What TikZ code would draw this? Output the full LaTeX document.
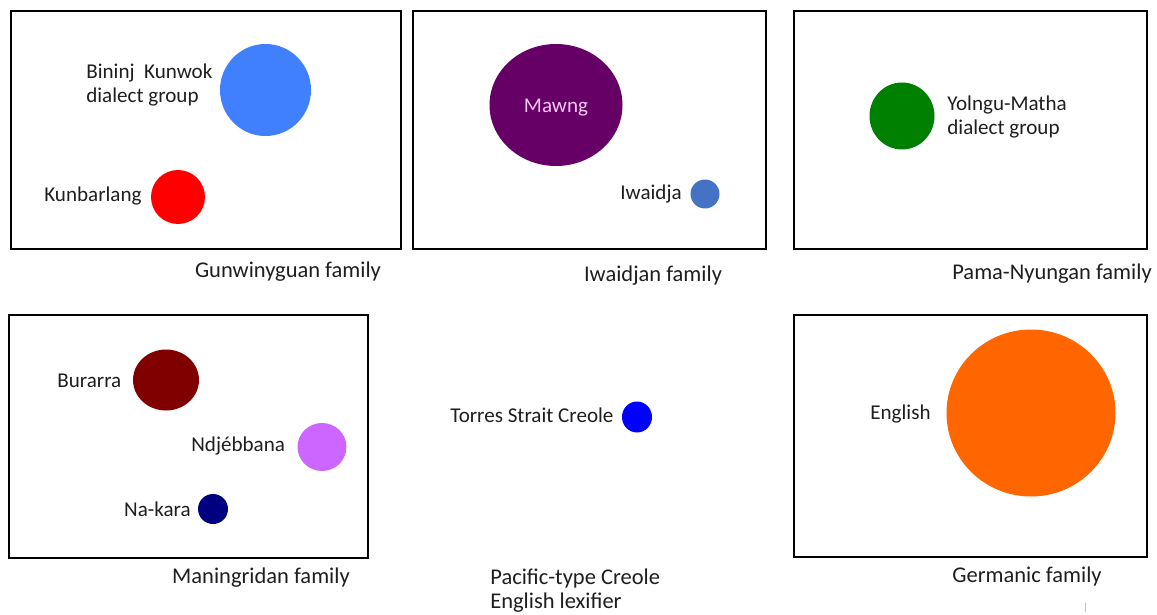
\documentclass[tikz,border=0pt]{standalone}
\usepackage{fontspec}
\setmainfont{Carlito}
\usetikzlibrary{shapes.geometric}
\definecolor{cBlue}{RGB}{64,128,255}
\definecolor{cRed}{RGB}{255,0,0}
\definecolor{cPurple}{RGB}{102,0,102}
\definecolor{cIwa}{RGB}{68,114,196}
\definecolor{cGreen}{RGB}{0,128,0}
\definecolor{cBur}{RGB}{128,0,0}
\definecolor{cNdj}{RGB}{204,102,255}
\definecolor{cNavy}{RGB}{0,0,128}
\definecolor{cTSC}{RGB}{0,0,255}
\definecolor{cEng}{RGB}{255,102,0}
\definecolor{txt}{RGB}{30,30,30}
\definecolor{mawtxt}{RGB}{245,200,245}
\begin{document}
\begin{tikzpicture}[x=0.02cm,y=-0.02cm,
  panel/.style={draw=black,line width=0.9pt},
  blob/.style={ellipse,draw=none,inner sep=0pt},
  lbl/.style={font=\fontsize{12}{14}\selectfont,text=txt,inner sep=0pt},
  lbll/.style={lbl,align=left},
  fam/.style={font=\fontsize{12.8}{13.2}\selectfont,text=txt,inner sep=0pt,align=left},
]
\useasboundingbox (0,0) rectangle (1157,615);
% panels
\draw[panel] (11,11) rectangle (401,249);
\draw[panel] (413,11) rectangle (766,249);
\draw[panel] (794,11) rectangle (1147,249);
\draw[panel] (9,315) rectangle (368,558);
\draw[panel] (794,315) rectangle (1147,557);
% circles
\node[blob,fill=cBlue,minimum width=91*0.02cm,minimum height=92*0.02cm] (bk) at (265.5,90) {};
\node[blob,fill=cRed,minimum width=54*0.02cm,minimum height=54*0.02cm] (kb) at (178,197) {};
\node[blob,fill=cPurple,minimum width=133*0.02cm,minimum height=122*0.02cm] (mw) at (556,105) {};
\node[blob,fill=cIwa,minimum width=29*0.02cm,minimum height=29*0.02cm] (iw) at (705,194) {};
\node[blob,fill=cGreen,minimum width=65*0.02cm,minimum height=67*0.02cm] (yo) at (902,116) {};
\node[blob,fill=cBur,minimum width=66*0.02cm,minimum height=61*0.02cm] (bu) at (166,380) {};
\node[blob,fill=cNdj,minimum width=49*0.02cm,minimum height=48*0.02cm] (nd) at (322,447) {};
\node[blob,fill=cNavy,minimum width=30*0.02cm,minimum height=30*0.02cm] (nk) at (213,509) {};
\node[blob,fill=cTSC,minimum width=30*0.02cm,minimum height=31*0.02cm] (ts) at (637,417) {};
\node[blob,fill=cEng,minimum width=169*0.02cm,minimum height=167*0.02cm] (en) at (1031,413) {};
% labels
\node[lbll,anchor=west] (bkl) at (86,85) {Bininj~ Kunwok\\dialect group};
\node[lbl,anchor=west] (kbl) at (44,196) {Kunbarlang};
\node[lbl,text=mawtxt] (mwl) at (556,108) {Mawng};
\node[lbl,anchor=west] (iwl) at (620,194) {Iwaidja};
\node[lbll,anchor=west] (yol) at (947,117) {Yolngu-Matha\\dialect group};
\node[fam] (f1) at (288,272) {Gunwinyguan family};
\node[fam] (f2) at (653,276) {Iwaidjan family};
\node[fam] (f3) at (1052,274) {Pama-Nyungan family};
\node[lbl,anchor=west] (bul) at (57,381) {Burarra};
\node[lbl,anchor=west] (ndl) at (191,446) {Ndjébbana};
\node[lbl,anchor=east] (nkl) at (191,509) {Na-kara};
\node[lbl,anchor=west] (tsl) at (450,415) {Torres Strait Creole};
\node[lbl,anchor=west] (enl) at (870,414) {English};
\node[fam] (f4) at (261,578) {Maningridan family};
\node[fam,anchor=north west] (f5) at (490,569) {Pacific-type Creole\\English lexifier};
\node[fam] (f6) at (1027,577) {Germanic family};
\draw[gray!50,line width=0.4pt] (1085,603) -- (1085,612);
\end{tikzpicture}
\end{document}
